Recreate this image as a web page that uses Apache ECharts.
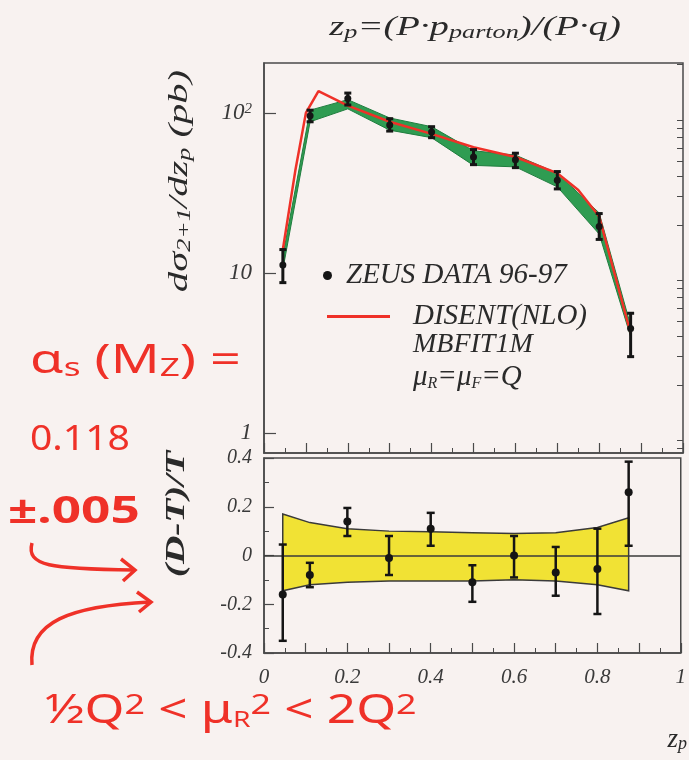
<!DOCTYPE html>
<html><head><meta charset="utf-8">
<script src="https://cdn.jsdelivr.net/npm/echarts@6/dist/echarts.min.js"></script>
<style>html,body{margin:0;padding:0;background:#f8f2f0;}#c{width:689px;height:760px;}</style>
</head><body><div id="c"></div>
<script>
// ---- data ----
const zp       = [0.045, 0.11, 0.2, 0.3, 0.4, 0.5, 0.6, 0.7, 0.8, 0.875];
const dataVal  = [11.2, 96, 123, 84, 76, 53, 51, 38, 19.5, 4.5];
const dataLo   = [8.7, 88, 112, 77, 70, 47.5, 45.5, 33.5, 16.2, 3.0];
const dataHi   = [14, 104, 133, 92, 82, 59, 56, 43, 23.5, 5.6];
const bandLo   = [10.5, 88, 106, 78, 70, 47, 46, 34.5, 17.5, 4.0];
const bandHi   = [12.8, 104, 121, 93, 82, 58, 54.5, 42, 23.7, 4.7];
const thX      = [0.045, 0.075, 0.1, 0.13, 0.2, 0.3, 0.4, 0.5, 0.6, 0.7, 0.75, 0.8, 0.875];
const thY      = [14, 44, 100, 137, 111, 88, 74, 61, 53, 42, 33, 22.5, 4.2];
const ratio    = [-0.16, -0.08, 0.14, -0.01, 0.11, -0.11, 0.0, -0.07, -0.055, 0.26];
const ratioLo  = [-0.35, -0.13, 0.08, -0.08, 0.04, -0.19, -0.09, -0.165, -0.24, 0.04];
const ratioHi  = [0.045, -0.03, 0.195, 0.08, 0.175, -0.04, 0.08, 0.035, 0.11, 0.385];
const yelHi    = [0.17, 0.135, 0.11, 0.10, 0.097, 0.093, 0.09, 0.093, 0.115, 0.155];
const yelLo    = [-0.145, -0.12, -0.11, -0.105, -0.105, -0.105, -0.10, -0.105, -0.12, -0.145];
const logMinorTicks = [0.8, 0.9, 2, 3, 4, 5, 6, 7, 8, 9, 20, 30, 40, 50, 60, 70, 80, 90, 200];
const xTickLabels = ['0', '0.2', '0.4', '0.6', '0.8', '1'];

const SERIF = '"Liberation Serif","DejaVu Serif",serif';
const HAND = '"Noto Sans","DejaVu Sans",sans-serif';
const RED = '#ef3128';
const INK = '#2a2a2a';
const AX = '#4a4a4a';

const chart = echarts.init(document.getElementById('c'), null, {renderer: 'canvas'});

function bars(params, api, capW, lw, r) {
  const x = api.value(0);
  const p = api.coord([x, api.value(1)]);
  const pl = api.coord([x, api.value(2)]);
  const ph = api.coord([x, api.value(3)]);
  const st = {stroke: '#151515', lineWidth: lw};
  return {type: 'group', children: [
    {type: 'line', shape: {x1: p[0], y1: pl[1], x2: p[0], y2: ph[1]}, style: st},
    {type: 'line', shape: {x1: p[0] - capW/2, y1: pl[1], x2: p[0] + capW/2, y2: pl[1]}, style: st},
    {type: 'line', shape: {x1: p[0] - capW/2, y1: ph[1], x2: p[0] + capW/2, y2: ph[1]}, style: st},
    {type: 'circle', shape: {cx: p[0], cy: p[1], r: r}, style: {fill: '#151515'}}
  ]};
}
function bandPoly(api, xs, lo, hi) {
  const pts = [];
  for (let i = 0; i < xs.length; i++) pts.push(api.coord([xs[i], hi[i]]));
  for (let i = xs.length - 1; i >= 0; i--) pts.push(api.coord([xs[i], lo[i]]));
  return pts;
}

const labelFont = {fontFamily: SERIF, fontStyle: 'italic', color: '#3a3a3a'};
const rich = {
  sup: {fontFamily: SERIF, fontStyle: 'italic', fontSize: 15, lineHeight: 14, verticalAlign: 'top', color: '#3a3a3a'}
};
const legText = {fontFamily: SERIF, fontStyle: 'italic', fontSize: 29, color: INK};

const option = {
  backgroundColor: '#f8f2f0',
  animation: false,
  grid: [
    {left: 264, top: 63, width: 419, height: 390, show: true, borderColor: AX, borderWidth: 1.5, backgroundColor: 'transparent'},
    {left: 264, top: 458, width: 419, height: 195, show: true, borderColor: AX, borderWidth: 1.5, backgroundColor: 'transparent'}
  ],
  xAxis: [
    {gridIndex: 0, type: 'value', min: 0, max: 1, interval: 0.1,
     axisLine: {onZero: false, lineStyle: {color: AX, width: 1.5}},
     axisTick: {inside: true, length: 10, lineStyle: {color: AX, width: 1.2}},
     minorTick: {show: true, splitNumber: 2, length: 5, lineStyle: {color: AX}},
     axisLabel: {show: false}, splitLine: {show: false}},
    {gridIndex: 1, type: 'value', min: 0, max: 1, interval: 0.1,
     axisLine: {onZero: false, lineStyle: {color: AX, width: 1.5}},
     axisTick: {inside: true, length: 10, lineStyle: {color: AX, width: 1.2}},
     minorTick: {show: true, splitNumber: 2, length: 5, lineStyle: {color: AX}},
     axisLabel: Object.assign({fontSize: 21, margin: 14, formatter: v => {
        const k = Math.round(v * 10); return k % 2 === 0 ? xTickLabels[k / 2] : ''; }}, labelFont),
     splitLine: {show: false}}
  ],
  yAxis: [
    {gridIndex: 0, type: 'log', logBase: 10, min: 0.75, max: 205,
     axisLine: {lineStyle: {color: AX, width: 1.5}},
     axisTick: {inside: true, length: 12, lineStyle: {color: AX, width: 1.2}},
     axisLabel: Object.assign({fontSize: 23, margin: 12, showMinLabel: false, showMaxLabel: false, rich: rich,
       formatter: v => { const l = Math.log10(v); if (Math.abs(l - Math.round(l)) > 1e-6) return '';
         const n = Math.round(l); return n === 0 ? '1' : n === 1 ? '10' : '10{sup|' + n + '}'; }}, labelFont),
     splitLine: {show: false}},
    {gridIndex: 1, type: 'value', min: -0.4, max: 0.4, interval: 0.2,
     axisLine: {onZero: false, lineStyle: {color: AX, width: 1.5}},
     axisTick: {inside: true, length: 10, lineStyle: {color: AX, width: 1.2}},
     minorTick: {show: true, splitNumber: 2, length: 5, lineStyle: {color: AX}},
     axisLabel: Object.assign({fontSize: 20, margin: 12, formatter: v => {
        const r = Math.round(v * 10) / 10; return r === 0 ? '0' : String(r); }}, labelFont),
     splitLine: {show: false}},
    {gridIndex: 0, type: 'log', logBase: 10, min: 0.75, max: 205,
     axisLine: {show: false},
     axisTick: {inside: true, length: 6, customValues: logMinorTicks, lineStyle: {color: AX, width: 1}},
     axisLabel: {show: false}, splitLine: {show: false}}
  ],
  legend: [
    {data: [{name: 'ZEUS DATA 96-97', icon: 'circle'}], left: 323, top: 261, padding: 0,
     itemWidth: 9, itemHeight: 9, selectedMode: false,
     textStyle: Object.assign({padding: [0, 0, 0, 9]}, legText)},
    {data: [{name: 'DISENT(NLO)', icon: 'rect'}], left: 327, top: 302, padding: 0,
     itemWidth: 63, itemHeight: 3, selectedMode: false,
     textStyle: Object.assign({padding: [0, 0, 0, 18]}, legText)}
  ],
  series: [
    {type: 'custom', name: 'scale band', xAxisIndex: 0, yAxisIndex: 0, silent: true, z: 2,
     data: [[zp[0], bandLo[0]]],
     renderItem: (params, api) => ({type: 'polygon', shape: {points: bandPoly(api, zp, bandLo, bandHi)},
       style: {fill: '#2f9c52', stroke: '#1f7d3e', lineWidth: 1}})},
    {type: 'line', name: 'DISENT(NLO)', xAxisIndex: 0, yAxisIndex: 0, z: 3,
     data: thX.map((x, i) => [x, thY[i]]), symbol: 'none', color: RED,
     lineStyle: {color: RED, width: 2.5}},
    {type: 'custom', name: 'ZEUS DATA 96-97', xAxisIndex: 0, yAxisIndex: 0, z: 4,
     itemStyle: {color: '#151515'},
     data: zp.map((x, i) => [x, dataVal[i], dataLo[i], dataHi[i]]),
     encode: {x: 0, y: 1},
     renderItem: (params, api) => bars(params, api, 7, 3, 3.5)},
    {type: 'custom', name: 'theory uncertainty', xAxisIndex: 1, yAxisIndex: 1, silent: true, z: 2,
     data: [[zp[0], yelLo[0]]],
     renderItem: (params, api) => ({type: 'polygon', shape: {points: bandPoly(api, zp, yelLo, yelHi)},
       style: {fill: '#f1e234', stroke: '#3a3a3a', lineWidth: 1.5}})},
    {type: 'custom', name: 'ratio', xAxisIndex: 1, yAxisIndex: 1, z: 4,
     itemStyle: {color: '#151515'},
     data: zp.map((x, i) => [x, ratio[i], ratioLo[i], ratioHi[i]]),
     encode: {x: 0, y: 1},
     renderItem: (params, api) => bars(params, api, 8, 2.5, 4),
     markLine: {silent: true, symbol: 'none', label: {show: false}, z: 3,
       lineStyle: {color: '#3a3a3a', width: 1.5, type: 'solid'}, data: [{yAxis: 0}]}}
  ],
  graphic: [
    {type: 'text', x: 475, y: 28, scaleX: 1.38, style: {text: 'z{sub|p}=(P·p{sub|parton})/(P·q)',
      fontFamily: SERIF, fontStyle: 'italic', fontSize: 28, fill: INK, align: 'center', verticalAlign: 'middle',
      rich: {sub: {fontFamily: SERIF, fontStyle: 'italic', fontSize: 19, lineHeight: 18, verticalAlign: 'bottom', fill: INK}}}},
    {type: 'text', x: 180, y: 181, rotation: Math.PI / 2, scaleX: 1.45, style: {text: 'dσ{sub|2+1}/dz{sub|p} (pb)',
      fontFamily: SERIF, fontStyle: 'italic', fontSize: 28, fill: INK, align: 'center', verticalAlign: 'middle',
      rich: {sub: {fontFamily: SERIF, fontStyle: 'italic', fontSize: 18, lineHeight: 16, verticalAlign: 'bottom', fill: INK}}}},
    {type: 'text', x: 177, y: 514, rotation: Math.PI / 2, scaleX: 1.4, style: {text: '(D-T)/T',
      fontFamily: SERIF, fontStyle: 'italic', fontWeight: 'bold', fontSize: 28, fill: INK, align: 'center', verticalAlign: 'middle'}},
    {type: 'text', x: 413, y: 345, style: {text: 'MBFIT1M', fontFamily: SERIF, fontStyle: 'italic', fontSize: 28,
      fill: INK, align: 'left', verticalAlign: 'middle'}},
    {type: 'text', x: 413, y: 377, style: {text: 'μ{sub|R}=μ{sub|F}=Q', fontFamily: SERIF, fontStyle: 'italic', fontSize: 29,
      fill: INK, align: 'left', verticalAlign: 'middle',
      rich: {sub: {fontFamily: SERIF, fontStyle: 'italic', fontSize: 16, lineHeight: 14, verticalAlign: 'bottom', fill: INK}}}},
    {type: 'text', x: 687, y: 740, style: {text: 'z{sub|p}', fontFamily: SERIF, fontStyle: 'italic', fontSize: 27,
      fill: INK, align: 'right', verticalAlign: 'middle',
      rich: {sub: {fontFamily: SERIF, fontStyle: 'italic', fontSize: 18, lineHeight: 16, verticalAlign: 'bottom', fill: INK}}}},
    // handwritten annotations
    {type: 'text', x: 30, y: 362, scaleX: 1.35, style: {text: 'α{s|s} (M{s|Z}) =', fontFamily: HAND, fontSize: 40, fill: RED,
      align: 'left', verticalAlign: 'middle',
      rich: {s: {fontFamily: HAND, fontSize: 26, lineHeight: 22, verticalAlign: 'bottom', fill: RED}}}},
    {type: 'text', x: 30, y: 440, scaleX: 1.15, style: {text: '0.118', fontFamily: HAND, fontSize: 34, fill: RED, align: 'left', verticalAlign: 'middle'}},
    {type: 'text', x: 8, y: 512, scaleX: 1.35, style: {text: '±.005', fontFamily: HAND, fontWeight: 'bold', fontSize: 38, fill: RED, align: 'left', verticalAlign: 'middle'}},
    {type: 'text', x: 45, y: 712, scaleX: 1.28, style: {text: '½Q{sup|2} < μ{sub|R}{sup|2} < 2Q{sup|2}', fontFamily: HAND, fontSize: 40, fill: RED,
      align: 'left', verticalAlign: 'middle',
      rich: {sup: {fontFamily: HAND, fontSize: 28, lineHeight: 28, verticalAlign: 'top', fill: RED},
             sub: {fontFamily: HAND, fontSize: 22, lineHeight: 20, verticalAlign: 'bottom', fill: RED}}}},
    {type: 'bezierCurve', shape: {x1: 32, y1: 543, cpx1: 26, cpy1: 566, cpx2: 50, cpy2: 569, x2: 134, y2: 570},
     style: {stroke: RED, lineWidth: 3.5, fill: null}},
    {type: 'polyline', shape: {points: [[121, 559], [135, 570], [123, 581]]}, style: {stroke: RED, lineWidth: 3.5, fill: null}},
    {type: 'bezierCurve', shape: {x1: 32, y1: 665, cpx1: 28, cpy1: 622, cpx2: 70, cpy2: 606, x2: 150, y2: 602},
     style: {stroke: RED, lineWidth: 3.5, fill: null}},
    {type: 'polyline', shape: {points: [[137, 592], [151, 602], [139, 612]]}, style: {stroke: RED, lineWidth: 3.5, fill: null}}
  ]
};
chart.setOption(option);
</script>
</body></html>
